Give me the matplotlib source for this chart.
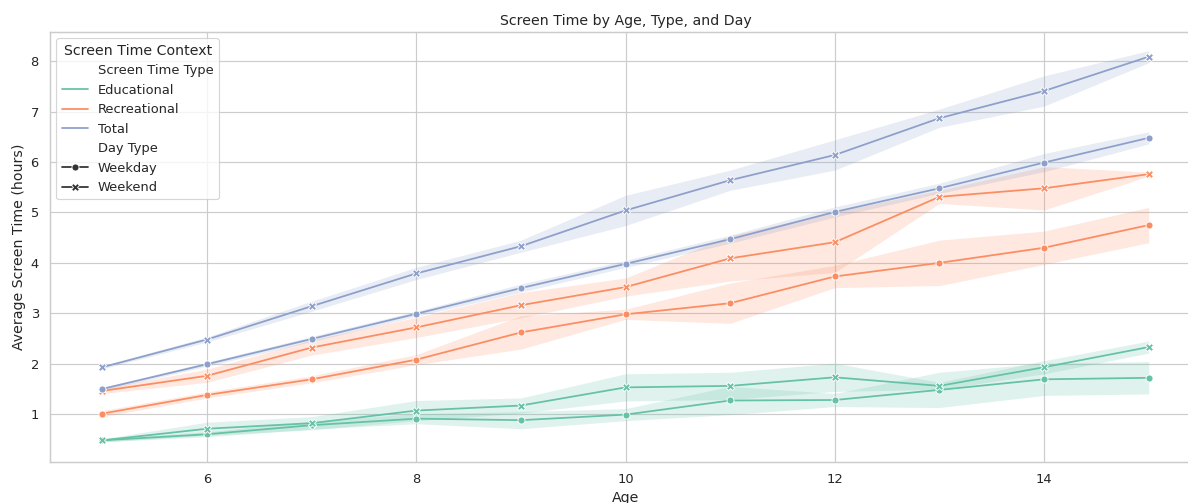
import matplotlib
matplotlib.use("Agg")
import matplotlib.pyplot as plt
from matplotlib.lines import Line2D
import seaborn as sns

# values (mean per age, half width of the band)
ages = [5, 6, 7, 8, 9, 10, 11, 12, 13, 14, 15]

edu_weekday = [0.48, 0.60, 0.78, 0.91, 0.88, 0.99, 1.27, 1.28, 1.48, 1.69, 1.72]
edu_weekend = [0.48, 0.71, 0.82, 1.07, 1.17, 1.53, 1.56, 1.73, 1.56, 1.93, 2.33]
rec_weekday = [1.01, 1.38, 1.69, 2.08, 2.62, 2.98, 3.20, 3.73, 4.00, 4.30, 4.75]
rec_weekend = [1.46, 1.76, 2.32, 2.72, 3.16, 3.52, 4.09, 4.41, 5.31, 5.48, 5.76]
tot_weekday = [1.50, 1.99, 2.49, 2.99, 3.50, 3.98, 4.47, 5.01, 5.48, 5.99, 6.48]
tot_weekend = [1.93, 2.48, 3.14, 3.79, 4.33, 5.04, 5.64, 6.14, 6.87, 7.41, 8.09]

edu_weekday_ci = [0.03, 0.05, 0.08, 0.10, 0.17, 0.12, 0.28, 0.13, 0.35, 0.32, 0.32]
edu_weekend_ci = [0.03, 0.13, 0.13, 0.20, 0.15, 0.27, 0.27, 0.28, 0.07, 0.13, 0.12]
rec_weekday_ci = [0.06, 0.06, 0.07, 0.10, 0.33, 0.10, 0.40, 0.22, 0.45, 0.33, 0.35]
rec_weekend_ci = [0.05, 0.13, 0.15, 0.20, 0.25, 0.18, 0.45, 0.60, 0.13, 0.43, 0.04]
tot_weekday_ci = [0.03, 0.04, 0.05, 0.05, 0.08, 0.07, 0.08, 0.10, 0.10, 0.18, 0.12]
tot_weekend_ci = [0.03, 0.05, 0.10, 0.12, 0.12, 0.30, 0.20, 0.30, 0.18, 0.30, 0.12]

types = ["Educational", "Recreational", "Total"]
day_types = ["Weekday", "Weekend"]

series = {
    ("Educational", "Weekday"): (edu_weekday, edu_weekday_ci),
    ("Educational", "Weekend"): (edu_weekend, edu_weekend_ci),
    ("Recreational", "Weekday"): (rec_weekday, rec_weekday_ci),
    ("Recreational", "Weekend"): (rec_weekend, rec_weekend_ci),
    ("Total", "Weekday"): (tot_weekday, tot_weekday_ci),
    ("Total", "Weekend"): (tot_weekend, tot_weekend_ci),
}

sns.set_theme(style="whitegrid")
palette = sns.color_palette("Set2", 3)
colors = dict(zip(types, palette))
markers = {"Weekday": "o", "Weekend": "X"}

DPI = 85
fig = plt.figure(figsize=(1188 / DPI, 503 / DPI), dpi=DPI)
ax = fig.add_axes([50 / 1188, 41 / 503, 1151 / 1188, 430 / 503])

for t in types:
    for d in day_types:
        vals, ci = series[(t, d)]
        lo = [v - c for v, c in zip(vals, ci)]
        hi = [v + c for v, c in zip(vals, ci)]
        ax.plot(ages, vals, color=colors[t], marker=markers[d], lw=1.5,
                ms=6, mec="w", mew=0.75)
        ax.fill_between(ages, lo, hi, color=colors[t], alpha=0.2, linewidth=0)

ax.set_xlim(4.5, 15.5)
ax.set_ylim(0.05, 8.58)
ax.set_title("Screen Time by Age, Type, and Day")
ax.set_xlabel("Age")
ax.set_ylabel("Average Screen Time (hours)")

blank = Line2D([], [], linestyle="", marker="")
handles = [blank]
labels = ["Screen Time Type"]
for t in types:
    handles.append(Line2D([], [], color=colors[t], lw=1.5))
    labels.append(t)
handles.append(blank)
labels.append("Day Type")
for d in day_types:
    handles.append(Line2D([], [], color=".2", lw=1.5, marker=markers[d],
                          ms=6, mec="w", mew=0.75))
    labels.append(d)
ax.legend(handles, labels, title="Screen Time Context", loc="upper left")

fig.savefig("out.png", dpi=DPI)
